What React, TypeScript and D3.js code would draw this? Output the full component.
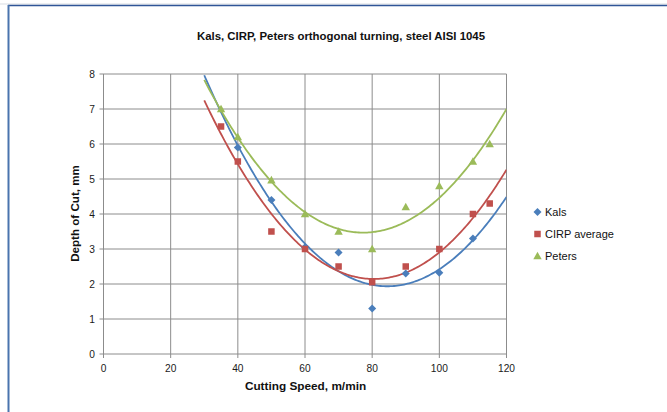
import React from "react";
import * as d3 from "d3";

// Cutting speed (m/min) and depth of cut (mm) measured for each source
const kalsSpeed = [40, 50, 60, 70, 80, 90, 100, 110];
const kalsDepth = [5.9, 4.4, 3.05, 2.9, 1.3, 2.3, 2.32, 3.3];

const cirpSpeed = [35, 40, 50, 60, 70, 80, 90, 100, 110, 115];
const cirpDepth = [6.5, 5.5, 3.5, 3.0, 2.5, 2.05, 2.5, 3.0, 4.0, 4.3];

const petersSpeed = [35, 40, 50, 60, 70, 80, 90, 100, 110, 115];
const petersDepth = [7.0, 6.2, 4.97, 4.0, 3.5, 3.0, 4.2, 4.8, 5.5, 6.0];

const xTicks = [0, 20, 40, 60, 80, 100, 120];
const yTicks = [0, 1, 2, 3, 4, 5, 6, 7, 8];

const seriesNames = ["Kals", "CIRP average", "Peters"];
const trendRange = [30, 120];

const W = 667;
const H = 412;
const plot = { left: 103.5, right: 506.5, top: 74, bottom: 354 };
const FONT = "'Liberation Sans', Arial, sans-serif";

// Least-squares second order polynomial y = a + b x + c x^2
function quadFit(xs: number[], ys: number[]) {
  const n = xs.length;
  let s1 = 0, s2 = 0, s3 = 0, s4 = 0, t0 = 0, t1 = 0, t2 = 0;
  for (let i = 0; i < n; i++) {
    const x = xs[i], y = ys[i];
    s1 += x; s2 += x * x; s3 += x * x * x; s4 += x * x * x * x;
    t0 += y; t1 += x * y; t2 += x * x * y;
  }
  const M = [
    [n, s1, s2, t0],
    [s1, s2, s3, t1],
    [s2, s3, s4, t2],
  ];
  for (let c = 0; c < 3; c++) {
    let p = c;
    for (let r = c + 1; r < 3; r++) if (Math.abs(M[r][c]) > Math.abs(M[p][c])) p = r;
    [M[c], M[p]] = [M[p], M[c]];
    for (let r = 0; r < 3; r++) {
      if (r === c) continue;
      const f = M[r][c] / M[c][c];
      for (let k = c; k < 4; k++) M[r][k] -= f * M[c][k];
    }
  }
  const a = M[0][3] / M[0][0], b = M[1][3] / M[1][1], c2 = M[2][3] / M[2][2];
  return (x: number) => a + b * x + c2 * x * x;
}

const colors = ["#4A7EBB", "#C0504D", "#9BBB59"];

function Marker({ kind, x, y, color }: { kind: number; x: number; y: number; color: string }) {
  if (kind === 0) {
    const r = 4;
    return <path d={`M${x},${y - r}L${x + r},${y}L${x},${y + r}L${x - r},${y}Z`} fill={color} />;
  }
  if (kind === 1) {
    const s = 6.5;
    return <rect x={x - s / 2} y={y - s / 2} width={s} height={s} fill={color} />;
  }
  const r = 4.2;
  return <path d={`M${x},${y - r}L${x + r},${y + r * 0.8}L${x - r},${y + r * 0.8}Z`} fill={color} />;
}

export default function App() {
  const x = d3.scaleLinear().domain([0, 120]).range([plot.left, plot.right]);
  const y = d3.scaleLinear().domain([0, 8]).range([plot.bottom, plot.top]);

  const series = [
    { xs: kalsSpeed, ys: kalsDepth },
    { xs: cirpSpeed, ys: cirpDepth },
    { xs: petersSpeed, ys: petersDepth },
  ];

  const line = d3
    .line<[number, number]>()
    .x((d) => x(d[0]))
    .y((d) => y(d[1]));

  const legendY = [212, 234, 256];

  return (
    <svg width={W} height={H} style={{ position: "absolute", left: 0, top: 0 }}>
      <rect x={0} y={0} width={W} height={H} fill="#fff" />
      {/* frame */}
      <line x1={0} x2={W} y1={4} y2={4} stroke="#d9dde3" strokeWidth={1} />
      <line x1={8} x2={W} y1={5.5} y2={5.5} stroke="#2F5597" strokeWidth={1.6} />
      <line x1={8.5} x2={8.5} y1={5} y2={H} stroke="#4A74AE" strokeWidth={2} />

      <defs>
        <clipPath id="plotClip">
          <rect x={plot.left} y={plot.top} width={plot.right - plot.left} height={plot.bottom - plot.top} />
        </clipPath>
      </defs>

      {/* gridlines */}
      {yTicks.map((t) => (
        <line key={"gy" + t} x1={plot.left - 4} x2={plot.right} y1={y(t)} y2={y(t)} stroke="#8c8c8c" strokeWidth={1} />
      ))}
      {xTicks.map((t) => (
        <line key={"gx" + t} x1={x(t)} x2={x(t)} y1={plot.top} y2={plot.bottom + 4} stroke="#8c8c8c" strokeWidth={1} />
      ))}

      {/* tick labels */}
      {yTicks.map((t) => (
        <text key={"ty" + t} x={95} y={y(t)} dy="0.35em" textAnchor="end" fontFamily={FONT} fontSize={10.2} fill="#1a1a1a">
          {t}
        </text>
      ))}
      {xTicks.map((t) => (
        <text key={"tx" + t} x={x(t)} y={368.5} dy="0.35em" textAnchor="middle" fontFamily={FONT} fontSize={10.2} fill="#1a1a1a">
          {t}
        </text>
      ))}

      {/* trendlines */}
      <g clipPath="url(#plotClip)">
        {series.map((s, i) => {
          const f = quadFit(s.xs, s.ys);
          const pts: [number, number][] = d3
            .range(trendRange[0], trendRange[1] + 0.001, 0.5)
            .map((v) => [v, f(v)]);
          return <path key={"tl" + i} d={line(pts) || ""} fill="none" stroke={colors[i]} strokeWidth={1.8} />;
        })}
      </g>

      {/* markers */}
      {series.map((s, i) =>
        s.xs.map((v, j) => <Marker key={`m${i}-${j}`} kind={i} x={x(v)} y={y(s.ys[j])} color={colors[i]} />)
      )}

      {/* titles */}
      <text x={341} y={36.5} dy="0.35em" textAnchor="middle" fontFamily={FONT} fontWeight="bold" fontSize={11.4} fill="#111">
        Kals, CIRP,  Peters orthogonal turning, steel AISI 1045
      </text>
      <text x={305.5} y={386} dy="0.35em" textAnchor="middle" fontFamily={FONT} fontWeight="bold" fontSize={11.8} fill="#111">
        Cutting Speed, m/min
      </text>
      <text
        transform={`translate(75,213.5) rotate(-90)`}
        dy="0.35em"
        textAnchor="middle"
        fontFamily={FONT}
        fontWeight="bold"
        fontSize={11.6}
        fill="#111"
      >
        Depth of Cut, mm
      </text>

      {/* legend */}
      {seriesNames.map((name, i) => (
        <g key={"lg" + i}>
          <Marker kind={i} x={537.5} y={legendY[i]} color={colors[i]} />
          <text x={545} y={legendY[i]} dy="0.35em" fontFamily={FONT} fontSize={11} fill="#111">
            {name}
          </text>
        </g>
      ))}
    </svg>
  );
}
